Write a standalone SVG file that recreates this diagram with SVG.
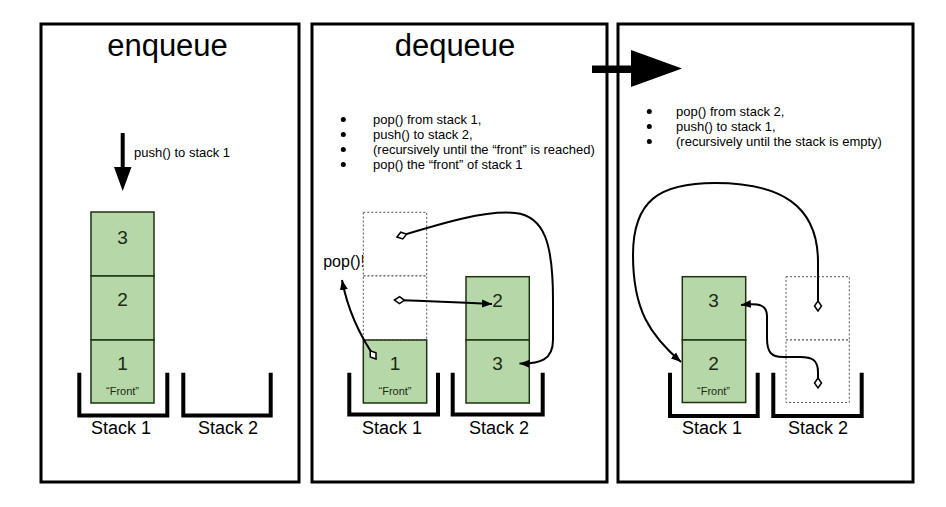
<svg xmlns="http://www.w3.org/2000/svg" width="946" height="507" viewBox="0 0 946 507">
  <style>
    .frame { fill: #ffffff; stroke: #000000; stroke-width: 3; }
    .title { font-family: "Liberation Sans", Arial, sans-serif; font-size: 31px; fill: #000000; text-anchor: middle; }
    .note { font-family: "Liberation Sans", Arial, sans-serif; font-size: 13px; fill: #000000; }
    .dot { fill: #000000; }
    .cell { fill: #b6d7a8; stroke: #1e3312; stroke-width: 1.5; }
    .slot { fill: #ffffff; stroke: #555555; stroke-width: 1; stroke-dasharray: 2 2; }
    .num { font-family: "Liberation Sans", Arial, sans-serif; font-size: 19px; fill: #1b2a12; text-anchor: middle; }
    .front { font-family: "Liberation Sans", Arial, sans-serif; font-size: 11px; fill: #1b2a12; text-anchor: middle; }
    .bracket { fill: none; stroke: #000000; stroke-width: 4; }
    .label { font-family: "Liberation Sans", Arial, sans-serif; font-size: 18px; fill: #000000; text-anchor: middle; }
    .link { fill: none; stroke: #000000; stroke-width: 2; marker-start: url(#diamond); marker-end: url(#head); }
  </style>
  <defs>
    <marker id="head" markerUnits="userSpaceOnUse" viewBox="0 -5 11 10" refX="10" refY="0" markerWidth="11" markerHeight="10" orient="auto">
      <path d="M0,-4 L10,0 L0,4 Z" fill="#000000"/>
    </marker>
    <marker id="diamond" markerUnits="userSpaceOnUse" viewBox="-1 -5 12 10" refX="0" refY="0" markerWidth="12" markerHeight="10" orient="auto">
      <path d="M0,0 L5,-3.5 L10,0 L5,3.5 Z" fill="#ffffff" stroke="#000000" stroke-width="1.5"/>
    </marker>
  </defs>

  <rect width="946" height="507" fill="#ffffff"/>

  <!-- Panel 1: enqueue -->
  <g id="panel-enqueue">
    <rect class="frame" x="41" y="24" width="258" height="458"/>
    <text class="title" x="167.5" y="56">enqueue</text>
    <g id="push-arrow">
      <line x1="122.7" y1="133" x2="122.7" y2="168" stroke="#000000" stroke-width="4"/>
      <polygon points="114,167 131.5,167 122.7,191" fill="#000000"/>
    </g>
    <text class="note" x="134" y="157">push() to stack 1</text>
    <g id="enq-item-3">
      <rect class="cell" x="91" y="212" width="63" height="64"/>
      <text class="num" x="122.5" y="244">3</text>
    </g>
    <g id="enq-item-2">
      <rect class="cell" x="91" y="276" width="63" height="64"/>
      <text class="num" x="122.5" y="306">2</text>
    </g>
    <g id="enq-item-1">
      <rect class="cell" x="91" y="340" width="63" height="63"/>
      <text class="num" x="122.5" y="370">1</text>
      <text class="front" x="122.5" y="395">“Front”</text>
    </g>
    <g id="enq-stack-1">
      <path class="bracket" d="M79.3,372.7 V415.5 H167.3 V372.7"/>
      <text class="label" x="121" y="434">Stack 1</text>
    </g>
    <g id="enq-stack-2">
      <path class="bracket" d="M183.3,372.7 V415.5 H270.7 V372.7"/>
      <text class="label" x="228" y="434">Stack 2</text>
    </g>
  </g>

  <!-- Panel 2: dequeue -->
  <g id="panel-dequeue">
    <rect class="frame" x="312" y="24" width="295" height="458"/>
    <text class="title" x="455" y="56">dequeue</text>
    <g id="dequeue-steps">
      <circle class="dot" cx="343.3" cy="119.5" r="2.5"/>
      <text class="note" x="373" y="124">pop() from stack 1,</text>
      <circle class="dot" cx="343.3" cy="134.5" r="2.5"/>
      <text class="note" x="373" y="139">push() to stack 2,</text>
      <circle class="dot" cx="343.3" cy="149.5" r="2.5"/>
      <text class="note" x="373" y="154">(recursively until the “front” is reached)</text>
      <circle class="dot" cx="343.3" cy="164.5" r="2.5"/>
      <text class="note" x="373" y="169">pop() the “front” of stack 1</text>
    </g>
    <text id="pop-label" x="323.2" y="267" font-family="Liberation Sans, Arial, sans-serif" font-size="16" fill="#000000">pop()!</text>
    <g id="deq-slot-3">
      <rect class="slot" x="363.3" y="212.3" width="63.4" height="63.7"/>
    </g>
    <g id="deq-slot-2">
      <rect class="slot" x="363.3" y="276" width="63.4" height="64"/>
    </g>
    <g id="deq-item-1">
      <rect class="cell" x="363.3" y="340" width="63.4" height="63"/>
      <text class="num" x="395" y="370">1</text>
      <text class="front" x="395" y="395">“Front”</text>
    </g>
    <g id="deq-item-2">
      <rect class="cell" x="466" y="276.7" width="63.3" height="63.3"/>
      <text class="num" x="497.6" y="307">2</text>
    </g>
    <g id="deq-item-3">
      <rect class="cell" x="466" y="340" width="63.3" height="63"/>
      <text class="num" x="497.6" y="370">3</text>
    </g>
    <g id="deq-stack-1">
      <path class="bracket" d="M349.3,372.7 V414.5 H438 V372.7"/>
      <text class="label" x="392" y="434">Stack 1</text>
    </g>
    <g id="deq-stack-2">
      <path class="bracket" d="M452.7,372.7 V414.5 H542.7 V372.7"/>
      <text class="label" x="499" y="434">Stack 2</text>
    </g>
  </g>

  <!-- Panel 3: refill stack 1 -->
  <g id="panel-refill">
    <rect class="frame" x="618" y="24" width="295" height="458"/>
    <g id="refill-steps">
      <circle class="dot" cx="649.3" cy="111.5" r="2.5"/>
      <text class="note" x="676" y="116">pop() from stack 2,</text>
      <circle class="dot" cx="649.3" cy="126.5" r="2.5"/>
      <text class="note" x="676" y="131">push() to stack 1,</text>
      <circle class="dot" cx="649.3" cy="141.5" r="2.5"/>
      <text class="note" x="676" y="146">(recursively until the stack is empty)</text>
    </g>
    <g id="ref-item-3">
      <rect class="cell" x="682.3" y="276.7" width="63.4" height="63.3"/>
      <text class="num" x="713.5" y="307">3</text>
    </g>
    <g id="ref-item-2">
      <rect class="cell" x="682.3" y="340" width="63.4" height="62.5"/>
      <text class="num" x="713.5" y="370">2</text>
      <text class="front" x="713.5" y="395">“Front”</text>
    </g>
    <g id="ref-slot-upper">
      <rect class="slot" x="786" y="276.7" width="63.3" height="63.3"/>
    </g>
    <g id="ref-slot-lower">
      <rect class="slot" x="786" y="340" width="63.3" height="62.5"/>
    </g>
    <g id="ref-stack-1">
      <path class="bracket" d="M670,372.7 V416 H757.7 V372.7"/>
      <text class="label" x="712" y="434">Stack 1</text>
    </g>
    <g id="ref-stack-2">
      <path class="bracket" d="M773.3,372.7 V416 H861.7 V372.7"/>
      <text class="label" x="818" y="434">Stack 2</text>
    </g>
  </g>

  <!-- Block arrow from dequeue to the refill step -->
  <g id="transition-arrow">
    <rect x="592" y="65.5" width="40" height="7.5" fill="#000000"/>
    <polygon points="631,50 631,87 682,68.5" fill="#000000"/>
  </g>

  <!-- Connectors -->
  <g id="connectors">
    <path class="link" d="M376,359 Q350,322 342,280"/>
    <path class="link" d="M394.5,300 Q440,301.5 492,304"/>
    <path class="link" d="M397,237 C440,224 485,210 515,213 C545,216 553,245 553,300 L553,340 C553,360 540,364 519.5,363.5"/>
    <path class="link" d="M818,311 L818,262 C818,205 780,183 715,183 C660,183 633,200 633,255 C633,310 650,335 681,362"/>
    <path class="link" d="M818,388 L818,372 C818,360 812,357 800,357 L783,357 C771,357 767,352 767,338 L767,316 C767,305 760,303 741,305"/>
  </g>
</svg>
